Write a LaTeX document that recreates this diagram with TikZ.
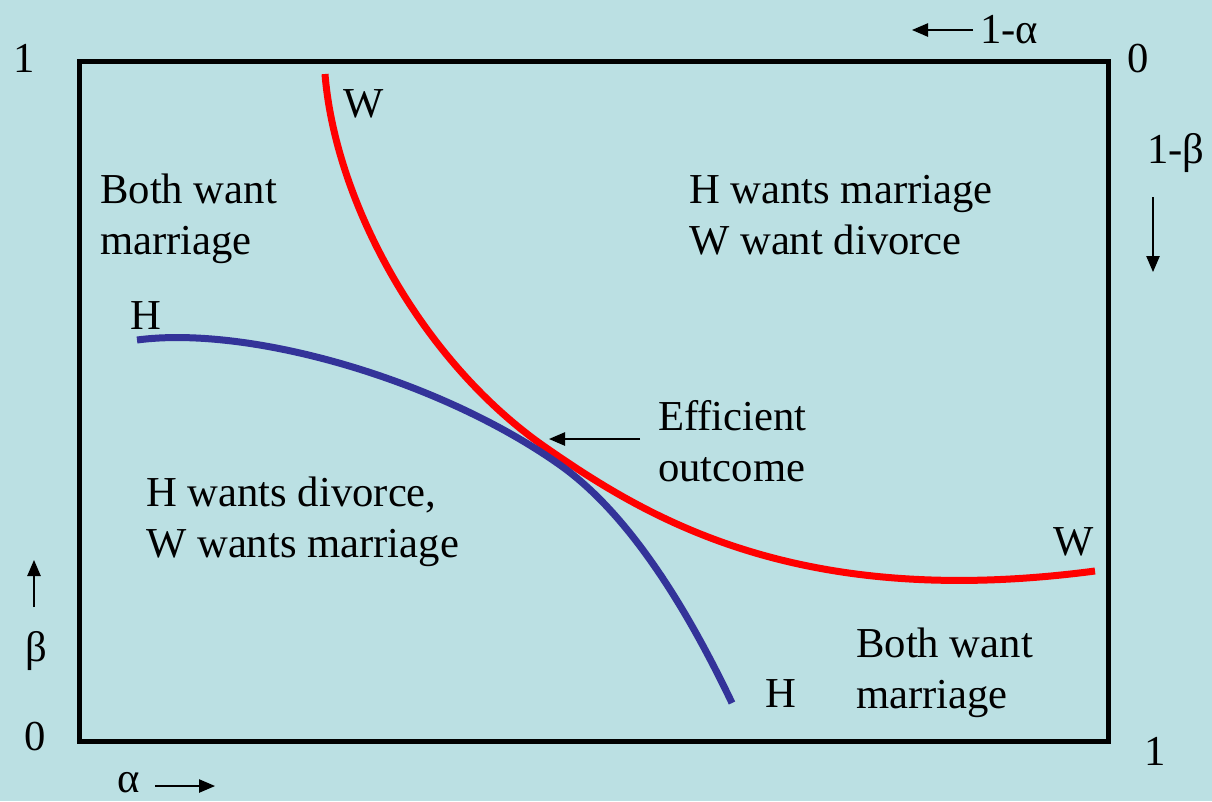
\documentclass[tikz,border=0pt]{standalone}
\usepackage{fontspec}
\setmainfont{Liberation Serif}
\usetikzlibrary{arrows.meta}
\definecolor{bg}{HTML}{BBE0E3}
\definecolor{hblue}{HTML}{333399}
\definecolor{wred}{HTML}{FF0000}
\begin{document}
\begin{tikzpicture}[x=0.75pt,y=-0.75pt,
  lbl/.style={font=\fontsize{32}{38}\selectfont, inner sep=0pt, text=black},
  txt/.style={lbl, anchor=base west},
  arr/.style={line width=1.1pt, -{Triangle[length=12pt,width=10pt]}},
  curvestyle/.style={line width=5.25pt}]
\fill[bg] (0,0) rectangle (1212,801);
\useasboundingbox (0,0) rectangle (1212,801);
% frame
\draw[line width=3.75pt] (79,61) rectangle (1108,741);
% curves
\draw[curvestyle, wred] (325,74) .. controls (335,200) and (420,360) .. (545,447)
  .. controls (650,520) and (800,610) .. (1095,571);
\draw[curvestyle, hblue] (137,340) .. controls (250,325) and (440,380) .. (560,465)
  .. controls (632,516) and (690,615) .. (732,703);
% region texts
\node[txt] (bw1a) at (100,203) {Both want};
\node[txt] (bw1b) at (100,254) {marriage};
\node[txt] (hm1) at (689,203) {H wants marriage};
\node[txt] (hm2) at (689,254) {W want divorce};
\node[txt] (hd1) at (146,506) {H wants divorce,};
\node[txt] (hd2) at (146,557) {W wants marriage};
\node[txt] (eff1) at (658,430) {Efficient};
\node[txt] (eff2) at (658,481) {outcome};
\node[txt] (bw2a) at (856,657) {Both want};
\node[txt] (bw2b) at (856,708) {marriage};
% curve labels
\node[txt] (wtop) at (343,117) {W};
\node[txt] (htop) at (130,329) {H};
\node[txt] (wright) at (1053,555) {W};
\node[txt] (hbot) at (765,707) {H};
% axis labels
\node[txt] (tl1) at (13,72) {1};
\node[txt] (tr0) at (1127,72) {0};
\node[txt] (oma) at (980,43) {1-α};
\node[txt] (omb) at (1147,163) {1-β};
\node[lbl] (beta) at (36,651) {β};
\node[lbl] (bl0) at (35,737) {0};
\node[lbl] (alpha) at (129,783) {α};
\node[lbl] (br1) at (1155,751) {1};
% arrows
\coordinate (a1s) at (973,30); \coordinate (a1e) at (912,30);
\coordinate (a2s) at (1153,197); \coordinate (a2e) at (1153,272);
\coordinate (a3s) at (34,607); \coordinate (a3e) at (34,560);
\coordinate (a4s) at (155,786); \coordinate (a4e) at (215,786);
\coordinate (a5s) at (640,439); \coordinate (a5e) at (549,439);
\draw[arr] (a1s) -- (a1e);
\draw[arr] (a2s) -- (a2e);
\draw[arr] (a3s) -- (a3e);
\draw[arr] (a4s) -- (a4e);
\draw[arr] (a5s) -- (a5e);
\end{tikzpicture}
\end{document}
